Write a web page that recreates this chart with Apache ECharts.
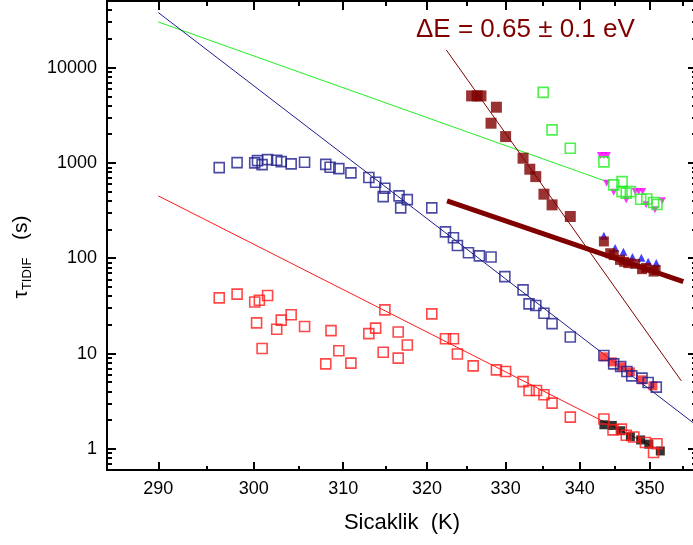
<!DOCTYPE html>
<html><head><meta charset="utf-8">
<script src="https://cdn.jsdelivr.net/npm/echarts@6/dist/echarts.min.js"></script>
<style>html,body{margin:0;padding:0;background:#fff}#c{width:693px;height:545px}</style>
</head><body><div id="c"></div>
<script>
// ---- axis ticks ----
const xTicksMajor = [290, 300, 310, 320, 330, 340, 350];
const xTicksMinor = [295, 305, 315, 325, 335, 345, 355];
const yTicksMajor = [1, 10, 100, 1000, 10000];
const yTicksMinor = [0.7, 0.8, 0.9, 2, 3, 4, 5, 6, 7, 8, 9, 20, 30, 40, 50, 60, 70, 80, 90,
  200, 300, 400, 500, 600, 700, 800, 900, 2000, 3000, 4000, 5000, 6000, 7000, 8000, 9000,
  20000, 30000, 40000];
const yRange = [0.6, 50000];

// ---- data: temperature (K) and tau (s) ----
const blueT = [296.3, 298.2, 300.1, 300.4, 300.9, 301.5, 302.5, 303.0, 304.1, 305.6, 308.0, 308.5, 309.5, 310.9,
  313.0, 313.8, 314.9, 314.7, 316.6, 317.6, 316.8, 320.6, 322.3, 323.3, 323.8, 325.2, 326.6, 328.1, 329.9,
  332.3, 333.1, 334.0, 335.1, 336.2, 338.7, 343.4, 344.8, 345.8, 346.7, 347.4, 348.9, 349.8, 351.0];
const blueTau = [893, 1008, 1001, 1057, 960, 1083, 1068, 1033, 977, 1018, 965, 902, 872, 786,
  702, 628, 543, 443, 451, 412, 338, 338, 189, 164, 136, 114, 106, 103, 64.2,
  46.6, 33.2, 31.9, 26.5, 20.6, 14.9, 9.53, 7.80, 7.30, 6.47, 5.83, 5.52, 4.96, 4.44];

const redT = [296.3, 298.2, 300.1, 300.6, 301.5, 300.3, 300.9, 302.5, 303.0, 304.1, 305.6, 308.0, 308.6, 309.5,
  310.9, 313.0, 313.8, 314.9, 314.7, 316.5, 316.5, 317.6, 320.6, 322.3, 323.3, 323.8, 325.8, 328.8, 330.0,
  332.3, 333.1, 334.1, 335.1, 336.2, 338.7, 343.4, 344.7, 345.9, 346.6, 347.7, 349.4, 351.1, 350.6];
const redTau = [38.4, 42.0, 34.8, 36.3, 40.6, 21.0, 11.3, 18.0, 22.4, 25.5, 19.2, 7.8, 17.4, 10.7,
  7.93, 16.2, 18.5, 28.7, 10.3, 16.8, 8.95, 12.3, 26.1, 14.3, 14.3, 9.9, 7.43, 6.74, 6.47,
  5.08, 4.09, 4.09, 3.69, 3.02, 2.15, 2.06, 1.58, 1.61, 1.39, 1.33, 1.165, 1.13, 0.915];

const redFillT = [343.4, 344.6, 345.9, 347.2, 348.9, 350.5];
const redFillTau = [9.23, 8.18, 7.25, 6.43, 5.30, 4.58];

const blackT = [343.4, 344.6, 345.8, 347.2, 348.7, 349.9, 351.6];
const blackTau = [1.79, 1.76, 1.55, 1.34, 1.24, 1.12, 0.95];

const darkT = [325.6, 326.3, 326.8, 328.8, 328.1, 330.0, 332.3, 333.2, 334.0, 335.1, 336.2, 338.7];
const darkTau = [5049, 5049, 5049, 3842, 2611, 1889, 1121, 859, 719, 470, 363, 274];

const dark2T = [343.4, 344.3, 344.8, 345.7, 346.3, 346.9, 347.9, 348.9, 349.5, 350.6, 350.9];
const dark2Tau = [150, 113, 108, 96.1, 91.6, 88.8, 87.3, 76.8, 79.2, 72.4, 75.5];

const triT = [343.4, 345.0, 346.2, 347.5, 348.8, 349.8, 351.0];
const triTau = [172, 128, 117, 103, 101, 91.6, 89.4];

const greenT = [335.0, 336.2, 338.7, 343.4, 344.8, 346.0, 346.0, 346.6, 347.2, 348.7, 349.6, 350.6, 351.1];
const greenTau = [5495, 2221, 1427, 1025, 588, 637, 500, 481, 500, 416, 418, 384, 366];

const magT = [342.9, 343.4, 343.9, 343.8, 344.8, 346.6, 347.9, 348.4, 349.0, 349.5, 350.8, 351.9];
const magTau = [1200, 1200, 1200, 613, 493, 409, 500, 500, 500, 363, 322, 402];

// fit lines (endpoints)
const fitGreenT = [290, 344.0];
const fitGreenTau = [30150, 630];
const fitBlueT = [290, 357];
const fitBlueTau = [37800, 1.78];
const fitRedT = [290, 351];
const fitRedTau = [451, 1.015];
const fitDarkT = [322.4, 354.75];
const fitDarkTau = [15350, 5.17];
const fitThickT = [322.5, 355.05];
const fitThickTau = [400, 56.9];

const FONT = 'Liberation Sans, Arial, sans-serif';
const toX = t => 1000 / t;
const toY = v => Math.log10(v);
const pts = (T, V) => T.map((t, i) => [toX(t), toY(V[i])]);

const BLUE = '#1e1e8c', RED = '#ff1a1a', GREEN = '#22ee22', DARK = '#800000';

function xAx(pos, vals, len, line, labels) {
  return {
    type: 'value', position: pos, min: 2.8, max: 3.51, inverse: true, z: 20,
    axisLine: { show: line, onZero: false, lineStyle: { color: '#000', width: 2 } },
    axisTick: { show: true, inside: true, length: len, customValues: vals.map(toX), lineStyle: { color: '#000', width: 2 } },
    axisLabel: labels ? { show: true, customValues: vals.map(toX), formatter: v => String(Math.round(1000 / v)),
      margin: 10, fontSize: 18, fontFamily: FONT, color: '#000' } : { show: false },
    splitLine: { show: false }
  };
}
function yAx(pos, vals, len, line, labels) {
  return {
    type: 'value', position: pos, min: toY(yRange[0]), max: toY(yRange[1]), z: 20,
    axisLine: { show: line, onZero: false, lineStyle: { color: '#000', width: 2 } },
    axisTick: { show: true, inside: true, length: len, customValues: vals.map(toY), lineStyle: { color: '#000', width: 2 } },
    axisLabel: labels ? { show: true, customValues: vals.map(toY), formatter: v => String(Math.round(Math.pow(10, v))),
      margin: 10, fontSize: 18, fontFamily: FONT, color: '#000' } : { show: false },
    splitLine: { show: false }
  };
}

const xAxes = [
  Object.assign(xAx('bottom', xTicksMajor, 8, true, true), {
    name: 'Sicaklik  (K)', nameLocation: 'middle', nameGap: 42,
    nameTextStyle: { fontSize: 22, fontFamily: FONT, color: '#000' }
  }),
  xAx('top', xTicksMajor, 9, true, false),
  xAx('bottom', xTicksMinor, 4, false, false),
  xAx('top', xTicksMinor, 5, false, false)
];
const yAxes = [
  yAx('left', yTicksMajor, 9, true, true),
  yAx('right', yTicksMajor, 9, true, false),
  yAx('left', yTicksMinor, 5, false, false),
  yAx('right', yTicksMinor, 5, false, false)
];

function openSq(name, T, V, color) {
  return { type: 'scatter', name, xAxisIndex: 0, yAxisIndex: 0, data: pts(T, V), symbol: 'rect', symbolSize: 10,
    itemStyle: { color: 'rgba(255,255,255,0)', borderColor: color, borderWidth: 1.6 }, z: 5 };
}
function filled(name, T, V, color, symbol, size, rot) {
  return { type: 'scatter', name, xAxisIndex: 0, yAxisIndex: 0, data: pts(T, V), symbol, symbolSize: size,
    symbolRotate: rot || 0, itemStyle: { color }, z: 4 };
}
function line(name, T, V, color, width) {
  return { type: 'line', name, xAxisIndex: 0, yAxisIndex: 0, data: pts(T, V), symbol: 'none', showSymbol: false,
    lineStyle: { color, width }, z: 3, clip: true };
}

const option = {
  animation: false,
  grid: { left: 107, top: 1, width: 590, height: 469, outerBoundsMode: 'none', containLabel: false,
    show: true, borderColor: '#000', borderWidth: 2, backgroundColor: 'transparent' },
  xAxis: xAxes,
  yAxis: yAxes,
  graphic: [
    { type: 'text', x: 21, y: 257, rotation: Math.PI / 2,
      style: { text: '{t|τ}{s|TIDIF}{t|   (s)}', align: 'center', verticalAlign: 'middle', fill: '#000',
        rich: { t: { fontSize: 21, fontFamily: FONT, fill: '#000' },
                s: { fontSize: 13, fontFamily: FONT, fill: '#000', padding: [13, 0, 0, 0] } } } },
    { type: 'text', left: 416, top: 17,
      style: { text: 'ΔE = 0.65 ± 0.1 eV', fontSize: 26, fontFamily: FONT, fill: DARK } }
  ],
  series: [
    line('fitGreen', fitGreenT, fitGreenTau, GREEN, 1),
    line('fitBlue', fitBlueT, fitBlueTau, BLUE, 1),
    line('fitRed', fitRedT, fitRedTau, RED, 1),
    line('fitDark', fitDarkT, fitDarkTau, DARK, 1),
    line('fitThick', fitThickT, fitThickTau, DARK, 5),
    filled('redFill', redFillT, redFillTau, RED, 'rect', 9),
    filled('black', blackT, blackTau, '#000', 'rect', 9),
    filled('tri', triT, triTau, '#1010ff', 'triangle', 8),
    filled('magenta', magT, magTau, '#ff00ff', 'triangle', 7, 180),
    filled('dark', darkT, darkTau, DARK, 'rect', 11),
    filled('dark2', dark2T, dark2Tau, DARK, 'rect', 10),
    openSq('blue', blueT, blueTau, BLUE),
    openSq('red', redT, redTau, RED),
    openSq('green', greenT, greenTau, GREEN)
  ]
};
const chart = echarts.init(document.getElementById('c'));
chart.setOption(option);
</script></body></html>
